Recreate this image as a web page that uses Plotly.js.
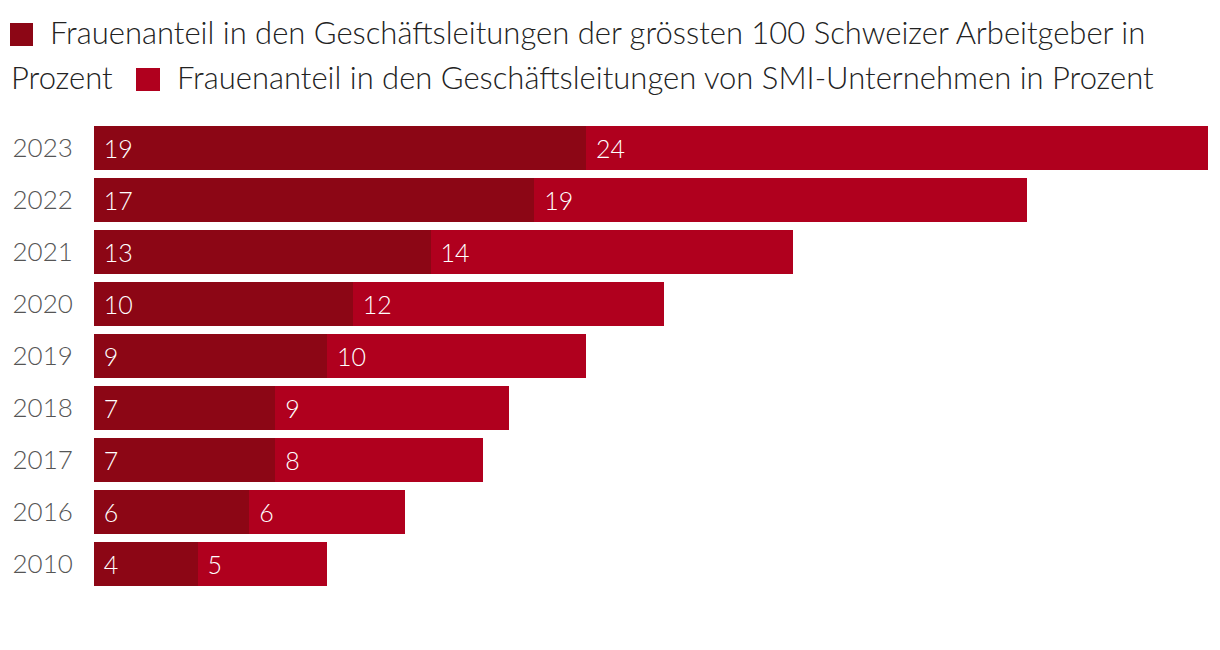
<!DOCTYPE html>
<html>
<head>
<meta charset="utf-8">
<script src="https://cdn.plot.ly/plotly-3.0.1.min.js"></script>
<style>html,body{margin:0;padding:0;background:#fff;}#chart{width:1220px;height:650px;}</style>
</head>
<body>
<div id="chart"></div>
<script>
const years = ["2023", "2022", "2021", "2020", "2019", "2018", "2017", "2016", "2010"];
const top100 = [19, 17, 13, 10, 9, 7, 7, 6, 4];
const smi = [24, 19, 14, 12, 10, 9, 8, 6, 5];
const seriesNames = [
  "Frauenanteil in den Geschäftsleitungen der grössten 100 Schweizer Arbeitgeber in Prozent",
  "Frauenanteil in den Geschäftsleitungen von SMI-Unternehmen in Prozent"
];
const colors = ["#8C0615", "#B0001E"];

const FONT = "Lato, 'Open Sans', sans-serif";
const W = 1220, H = 650;
const M = {l: 94, r: 12, t: 122, b: 60};
const pw = W - M.l - M.r, ph = H - M.t - M.b;
const px = x => (x - M.l) / pw;
const py = y => (H - M.b - y) / ph;

const totals = top100.map((v, i) => v + smi[i]);
const xmax = Math.max(...totals);

function barTrace(vals, i) {
  return {
    type: "bar", orientation: "h",
    y: years, x: vals, name: seriesNames[i],
    marker: {color: colors[i], line: {width: 0}},
    text: vals.map(v => "\u00a0" + v), textposition: "inside", insidetextanchor: "start",
    textfont: {family: FONT, size: 25, color: "#ffffff", weight: 300},
    hoverinfo: "x+name", showlegend: false, cliponaxis: false
  };
}

// Legend drawn as wrapped text flow (line 1 / line 2)
const words1 = seriesNames[0].split(" ");
const line1 = words1.slice(0, -1).join(" ");
const line1b = words1[words1.length - 1];

const annFont = {family: FONT, size: 31, color: "#222222", weight: 300};
const annotations = [
  {xref: "paper", yref: "paper", x: px(48), y: py(32), xanchor: "left", yanchor: "middle", text: line1, showarrow: false, font: annFont},
  {xref: "paper", yref: "paper", x: px(9), y: py(77), xanchor: "left", yanchor: "middle", text: line1b, showarrow: false, font: annFont},
  {xref: "paper", yref: "paper", x: px(175), y: py(77), xanchor: "left", yanchor: "middle", text: seriesNames[1], showarrow: false, font: annFont}
];
const shapes = [
  {type: "rect", xref: "paper", yref: "paper", x0: px(10), x1: px(33), y0: py(46), y1: py(23), fillcolor: colors[0], line: {width: 0}},
  {type: "rect", xref: "paper", yref: "paper", x0: px(136), x1: px(160), y0: py(91), y1: py(68), fillcolor: colors[1], line: {width: 0}}
];

const layout = {
  width: W, height: H,
  margin: M,
  paper_bgcolor: "#ffffff", plot_bgcolor: "#ffffff",
  barmode: "stack", bargap: 0.154,
  showlegend: false,
  xaxis: {range: [0, xmax], visible: false, fixedrange: true},
  yaxis: {
    type: "category", autorange: "reversed",
    showgrid: false, zeroline: false, showline: false,
    ticks: "outside", ticklen: 15, tickcolor: "rgba(0,0,0,0)",
    tickfont: {family: FONT, size: 26, color: "#555555", weight: 300}
  },
  annotations: annotations,
  shapes: shapes,
  font: {family: FONT}
};

Plotly.newPlot("chart", [barTrace(top100, 0), barTrace(smi, 1)], layout, {displayModeBar: false, staticPlot: true});
</script>
</body>
</html>
